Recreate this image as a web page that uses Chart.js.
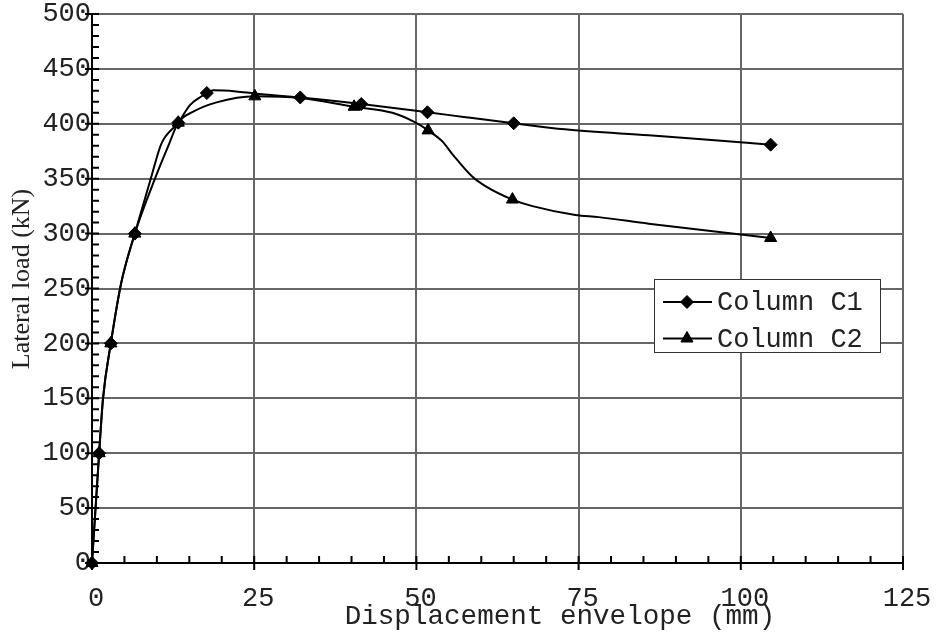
<!DOCTYPE html>
<html lang="en">
<head>
<meta charset="utf-8" />
<title>Lateral load vs displacement envelope</title>
<script src="https://cdn.jsdelivr.net/npm/chart.js@4.4.0/dist/chart.umd.min.js"></script>
<style>
  html, body { margin: 0; padding: 0; background: #fff; }
  #wrap { width: 941px; height: 636px; position: relative; }
</style>
</head>
<body>
<div id="wrap"><canvas id="chart"></canvas></div>
<script>
// measured points (these carry the markers)
const c1MarkX = [0, 1.1, 2.9, 6.6, 13.3, 17.7, 32.1, 41.5, 51.7, 65.0, 104.6];
const c1MarkY = [0, 100, 200, 300, 401, 428, 424, 418, 410.5, 400.5, 381];
const c2MarkX = [0, 1.1, 2.9, 6.6, 13.3, 25.1, 40.4, 51.8, 64.8, 104.6];
const c2MarkY = [0, 100, 200, 300, 401, 425, 415.5, 394, 331, 296];

// traced curves between the markers
const c1CurveX = [0, 1.1, 1.7, 2.9, 4.5, 6.6, 9.2, 10.7, 13.3, 15.1, 16.6, 17.7, 18.7, 22.2, 25.1, 32.1, 41.5, 51.7, 57.6, 65.0, 72.9, 85.8, 95, 104.6];
const c1CurveY = [0, 100, 150, 200, 255, 300, 353, 382, 401, 417, 424, 428, 430.5, 429.5, 427.5, 424, 418, 410.5, 406, 400.5, 395, 389.5, 385.5, 381];
const c2CurveX = [0, 1.1, 1.7, 2.9, 4.5, 6.6, 9.9, 11.7, 13.3, 15.6, 19.2, 25.1, 32.1, 40.4, 46.3, 49.9, 51.8, 54, 55.6, 58.6, 60.7, 64.8, 67.9, 74.5, 78.1, 85.8, 104.6];
const c2CurveY = [0, 100, 150, 200, 255, 300, 353, 379, 401, 411, 419.5, 425, 423.5, 415.5, 410, 401, 394, 384, 372, 352, 343, 331, 325, 317, 315, 309, 296];

const seriesNames = ['Column C1', 'Column C2'];
const xTitle = 'Displacement envelope (mm)';
const yTitle = 'Lateral load (kN)';

const monoFont = { family: 'Liberation Mono', size: 27 };

function pts(xs, ys) {
  return xs.map((x, i) => ({ x: x, y: ys[i] }));
}

// minor ticks point inward, major ticks cross the axis
const axisTicks = {
  id: 'axisTicks',
  beforeDatasetsDraw(chart) {
    const { ctx, chartArea: a, scales: { x, y } } = chart;
    ctx.save();
    ctx.strokeStyle = '#000';
    ctx.lineWidth = 2;
    ctx.beginPath();
    x.ticks.forEach((t, i) => {
      const px = x.getPixelForTick(i);
      ctx.moveTo(px, a.bottom + (t.value % 25 === 0 ? 7 : 0));
      ctx.lineTo(px, a.bottom - 7);
    });
    y.ticks.forEach((t, i) => {
      const py = y.getPixelForTick(i);
      ctx.moveTo(a.left - (t.value % 50 === 0 ? 7 : 0), py);
      ctx.lineTo(a.left + 7, py);
    });
    ctx.stroke();
    ctx.restore();
  }
};

// axis titles + boxed legend
const labels = {
  id: 'labels',
  afterDraw(chart) {
    const { ctx, chartArea: a } = chart;
    ctx.save();
    ctx.fillStyle = '#222';
    ctx.font = '27.6px "Liberation Mono"';
    ctx.textAlign = 'center';
    ctx.textBaseline = 'alphabetic';
    ctx.fillText(xTitle, a.left + 0.577 * (a.right - a.left), a.bottom + 61);

    ctx.save();
    ctx.translate(22, a.top + 265);
    ctx.rotate(-Math.PI / 2);
    ctx.font = '26px "Liberation Serif"';
    ctx.textBaseline = 'middle';
    ctx.fillText(yTitle, 0, 0);
    ctx.restore();

    const left = a.right - 249, top = a.top + 265, w = 226, h = 73;
    ctx.fillStyle = '#fff';
    ctx.fillRect(left, top, w, h);
    ctx.strokeStyle = '#333';
    ctx.lineWidth = 1;
    ctx.strokeRect(left + 0.5, top + 0.5, w, h);
    ctx.textAlign = 'left';
    ctx.textBaseline = 'middle';
    ctx.font = '27px "Liberation Mono"';
    chart.data.datasets.filter(d => d.showLine === false).forEach((ds, i) => {
      const cy = top + 23 + i * 36.5;
      ctx.beginPath();
      ctx.moveTo(left + 9, cy);
      ctx.lineTo(left + 58, cy);
      ctx.strokeStyle = '#000';
      ctx.lineWidth = 2;
      ctx.stroke();
      ctx.fillStyle = '#000';
      ctx.lineWidth = 1;
      Chart.helpers.drawPoint(ctx, { pointStyle: ds.pointStyle, radius: ds.pointRadius, borderWidth: 1, rotation: 0 }, left + 33, cy);
      ctx.fillStyle = '#222';
      ctx.fillText(ds.label, left + 63, cy + 1);
    });
    ctx.restore();
  }
};

const gridColor = step => c => (c.tick && c.tick.value % step === 0) ? '#666' : 'rgba(0,0,0,0)';

new Chart(document.getElementById('chart'), {
  type: 'line',
  data: {
    datasets: [
      { label: seriesNames[0], data: pts(c1MarkX, c1MarkY), showLine: false, pointStyle: 'rectRot', pointRadius: 6.5,
        backgroundColor: '#000', borderColor: '#000', borderWidth: 1, clip: false },
      { label: seriesNames[1], data: pts(c2MarkX, c2MarkY), showLine: false, pointStyle: 'triangle', pointRadius: 7,
        backgroundColor: '#000', borderColor: '#000', borderWidth: 1, clip: false },
      { label: seriesNames[0] + ' curve', data: pts(c1CurveX, c1CurveY), pointRadius: 0, borderColor: '#000',
        borderWidth: 2, cubicInterpolationMode: 'monotone', fill: false, clip: false },
      { label: seriesNames[1] + ' curve', data: pts(c2CurveX, c2CurveY), pointRadius: 0, borderColor: '#000',
        borderWidth: 2, cubicInterpolationMode: 'monotone', fill: false, clip: false }
    ]
  },
  options: {
    responsive: true,
    maintainAspectRatio: false,
    animation: false,
    layout: { padding: { top: 14, right: 38, left: 0, bottom: 0 } },
    plugins: {
      legend: { display: false },
      tooltip: { enabled: false }
    },
    scales: {
      x: {
        type: 'linear',
        min: 0,
        max: 125,
        afterFit: s => { s.height = 73; s.paddingLeft = 0; s.paddingRight = 0; },
        border: { color: '#000', width: 2 },
        grid: { color: gridColor(25), lineWidth: 2, drawTicks: false },
        ticks: {
          stepSize: 5,
          autoSkip: false,
          maxRotation: 0,
          maxTicksLimit: 100,
          padding: 20,
          labelOffset: 4,
          color: '#222',
          font: monoFont,
          callback: v => (v % 25 === 0 ? String(v) : '')
        }
      },
      y: {
        type: 'linear',
        min: 0,
        max: 500,
        afterFit: s => { s.width = 92; s.paddingTop = 0; s.paddingBottom = 0; },
        border: { color: '#000', width: 2 },
        grid: { color: gridColor(50), lineWidth: 2, drawTicks: false },
        ticks: {
          stepSize: 10,
          autoSkip: false,
          maxTicksLimit: 100,
          padding: 1,
          color: '#222',
          font: monoFont,
          callback: v => (v % 50 === 0 ? String(v) : '')
        }
      }
    }
  },
  plugins: [axisTicks, labels]
});
</script>
</body>
</html>
